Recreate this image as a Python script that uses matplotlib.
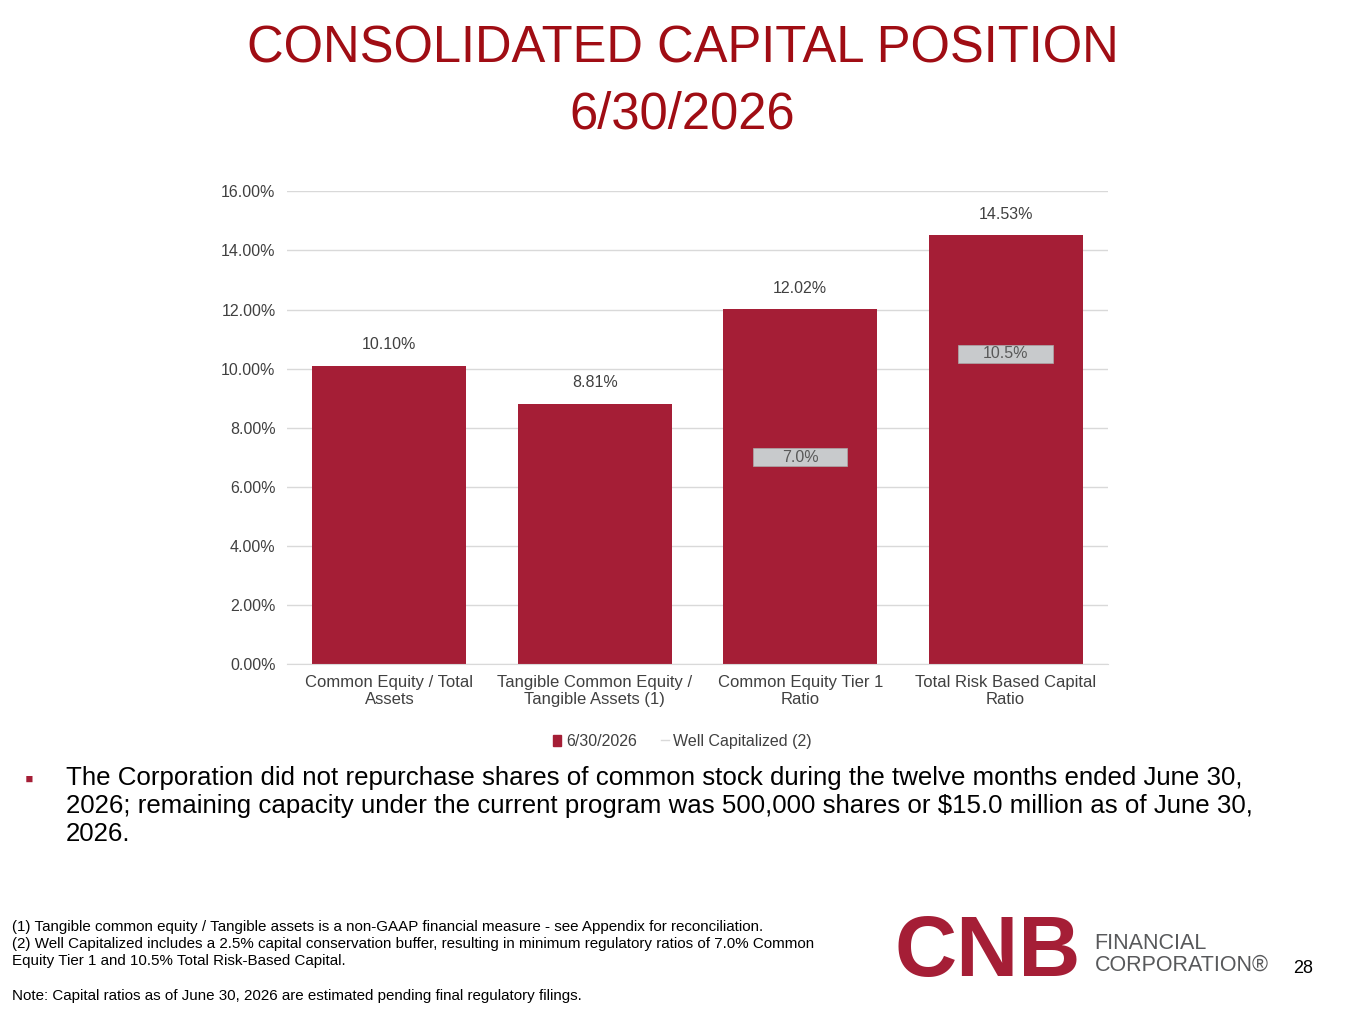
import matplotlib
matplotlib.use("Agg")
import matplotlib.pyplot as plt
from matplotlib.patches import Rectangle
from matplotlib.lines import Line2D

plt.rcParams['font.family'] = ['Liberation Sans', 'DejaVu Sans']

categories = ["Common Equity / Total\nAssets", "Tangible Common Equity /\nTangible Assets (1)",
              "Common Equity Tier 1\nRatio", "Total Risk Based Capital\nRatio"]
values = [10.10, 8.81, 12.02, 14.53]
well_cap = [None, None, 7.0, 10.5]
yticks = [0, 2, 4, 6, 8, 10, 12, 14, 16]

RED = "#A51E36"
fig = plt.figure(figsize=(13.65, 10.24), dpi=100)
fig.text(0.5, 0.952, "CONSOLIDATED CAPITAL POSITION", ha='center', va='center', fontsize=36.5, color="#A00D14")
fig.text(0.5, 0.888, "6/30/2026", ha='center', va='center', fontsize=36.5, color="#A00D14")

ax = fig.add_axes([0.210, 0.352, 0.602, 0.461])
x = range(len(values))
ax.bar(x, values, width=0.75, color=RED, zorder=2)
ax.set_xlim(-0.5, 3.5)
ax.set_ylim(0, 16)
ax.set_yticks(yticks)
ax.set_yticklabels([f"{t:.2f}%" for t in yticks], fontsize=11.5, color="#404040")
ax.set_xticks(list(x))
ax.set_xticklabels(categories, fontsize=12, color="#404040")
ax.yaxis.grid(True, color="#D9D9D9", lw=1, zorder=0)
for s in ['top', 'right', 'left']:
    ax.spines[s].set_visible(False)
ax.spines['bottom'].set_color("#D9D9D9")
ax.tick_params(length=0, pad=8)
for i, v in enumerate(values):
    ax.text(i, v + 0.45, f"{v:.2f}%", ha='center', va='bottom', fontsize=11.5, color="#404040")
for i, w in enumerate(well_cap):
    if w is not None:
        ax.add_patch(Rectangle((i - 0.23, w - 0.3), 0.46, 0.6, facecolor="#C8CACC",
                               edgecolor="#AAAAAA", lw=0.5, zorder=3))
        ax.text(i, w, f"{w:.1f}%", ha='center', va='center', fontsize=11.5, color="#595959", zorder=4)

handles = [Rectangle((0, 0), 1, 1, color=RED), Line2D([], [], color="#D9D9D9", lw=1)]
fig.legend(handles, ["6/30/2026", "Well Capitalized (2)"], loc='center', bbox_to_anchor=(0.5, 0.276),
           ncol=2, frameon=False, fontsize=11.5, handlelength=0.5, handletextpad=0.3, columnspacing=1.5,
           labelcolor="#404040")

fig.text(0.018, 0.238, "\u25aa", fontsize=18, color=RED, va='center')
fig.text(0.048, 0.252, "The Corporation did not repurchase shares of common stock during the twelve months ended June 30,\n"
         "2026; remaining capacity under the current program was 500,000 shares or $15.0 million as of June 30,\n"
         "2026.", fontsize=18.6, va='top', linespacing=1.2, color="#000000")

fig.text(0.009, 0.102, "(1) Tangible common equity / Tangible assets is a non-GAAP financial measure - see Appendix for reconciliation.\n"
         "(2) Well Capitalized includes a 2.5% capital conservation buffer, resulting in minimum regulatory ratios of 7.0% Common\n"
         "Equity Tier 1 and 10.5% Total Risk-Based Capital.\n\nNote: Capital ratios as of June 30, 2026 are estimated pending final regulatory filings.",
         fontsize=10.9, va='top', linespacing=1.3, color="#000000")

fig.text(0.655, 0.068, "CNB", fontsize=62, fontweight='bold', color=RED, va='center', ha='left')
fig.text(0.802, 0.068, "FINANCIAL\nCORPORATION\u00ae", fontsize=15.5, color="#58595B", va='center',
         ha='left', linespacing=1.0)
fig.text(0.955, 0.054, "28", fontsize=13, color="#000000", va='center', ha='center')

fig.savefig("out.png", dpi=100)
